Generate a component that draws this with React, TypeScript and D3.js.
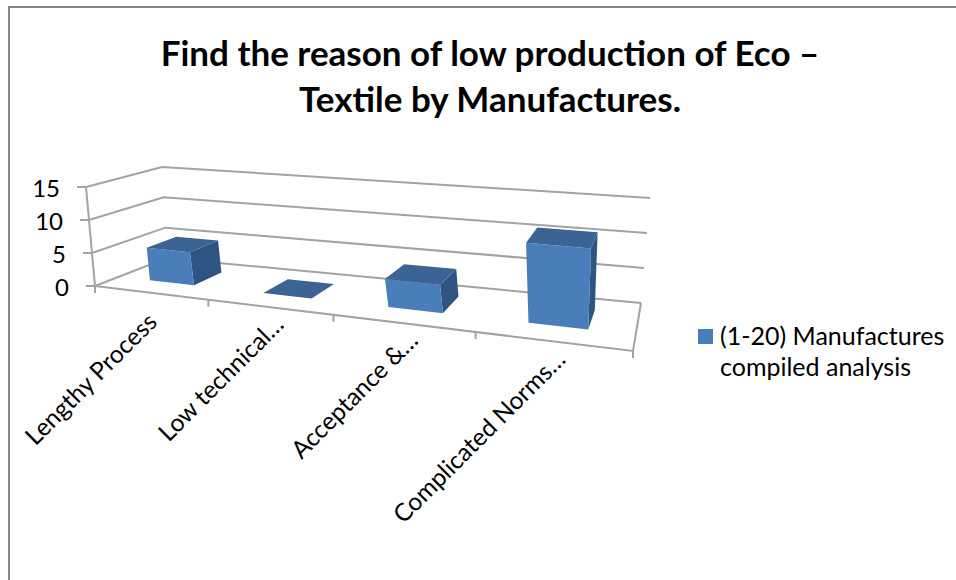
import React from "react";
import * as d3 from "d3";

const categories = ["Lengthy Process", "Low technical…", "Acceptance &…", "Complicated Norms…"];
const values = [5, 0, 4, 11];
const valueTicks = [0, 5, 10, 15];
const seriesName = ["(1-20) Manufactures", "compiled analysis"];
const titleLines = ["Find the reason of low production of Eco –", "Textile by Manufactures."];

type P = [number, number];
// perspective frame of the 3D box: [front-left, front-right, back-right, back-left]
const floorQuad: P[] = [[95, 286], [633, 351], [641, 303], [167, 258]];
const ceilQuad: P[] = [[86, 187], [645, 237], [650, 198], [162, 167]];
// where each category boundary falls along the box width (foreshortening)
const catStops = [0, 0.272, 0.527, 0.772, 1];
// end point of each rotated category label, relative to its floor position
const labelNudge: P[] = [[9, 31], [17, 19], [18, 19], [16, 20]];

function squareToQuad(q: P[]) {
  const [[x0, y0], [x1, y1], [x2, y2], [x3, y3]] = q;
  const dx1 = x1 - x2, dx2 = x3 - x2, sx = x0 - x1 + x2 - x3;
  const dy1 = y1 - y2, dy2 = y3 - y2, sy = y0 - y1 + y2 - y3;
  const den = dx1 * dy2 - dx2 * dy1;
  const g = (sx * dy2 - dx2 * sy) / den;
  const h = (dx1 * sy - sx * dy1) / den;
  const a = x1 - x0 + g * x1, b = x3 - x0 + h * x3, c = x0;
  const d = y1 - y0 + g * y1, e = y3 - y0 + h * y3, f = y0;
  return (u: number, v: number): P => {
    const w = g * u + h * v + 1;
    return [(a * u + b * v + c) / w, (d * u + e * v + f) / w];
  };
}
const floorH = squareToQuad(floorQuad);
const ceilH = squareToQuad(ceilQuad);
const uScale = d3.scaleLinear().domain(d3.range(categories.length + 1)).range(catStops);
const vScale = d3.scaleLinear().domain([0, 15]).range([0, 1]);

function project(cat: number, depth: number, val: number): P {
  const a = floorH(uScale(cat), depth);
  const b = ceilH(uScale(cat), depth);
  const t = vScale(val);
  return [a[0] + (b[0] - a[0]) * t, a[1] + (b[1] - a[1]) * t];
}
const lineGen = d3.line<P>();
const poly = (pts: P[]) => lineGen(pts)! + "Z";

const GRID = "#a3a3a3";
const FONT = "Lato, Carlito, 'Open Sans', sans-serif";
const BAR_W = 0.2, D0 = 0.3, D1 = 0.72;

export default function App() {
  const nCat = categories.length;
  const bars = values.map((v, i) => {
    const l = i + 0.5 - BAR_W, r = i + 0.5 + BAR_W;
    return {
      front: poly([project(l, D0, 0), project(r, D0, 0), project(r, D0, v), project(l, D0, v)]),
      side: poly([project(r, D0, 0), project(r, D1, 0), project(r, D1, v), project(r, D0, v)]),
      top: poly([project(l, D0, v), project(r, D0, v), project(r, D1, v), project(l, D1, v)]),
    };
  });
  const labelAnchor = (i: number): P => {
    const p = project(i + 0.5, 0, 0);
    return [p[0] + labelNudge[i][0], p[1] + labelNudge[i][1]];
  };
  return (
    <svg width={956} height={580} style={{ position: "fixed", left: 0, top: 0, background: "#fff" }} fontFamily={FONT}>
      <defs>
        <filter id="soft" x="-5%" y="-5%" width="110%" height="110%">
          <feGaussianBlur stdDeviation="0.55" />
        </filter>
      </defs>
      <path d="M9 580V7H956" fill="none" stroke="#868686" strokeWidth={2} />
      <g fontWeight={700} fontSize={35} textAnchor="middle" fill="#000">
        {titleLines.map((t, i) => (
          <text key={t} x={490} y={66 + i * 46}>{t}</text>
        ))}
      </g>
      <g filter="url(#soft)">
        <g fill="none" stroke={GRID} strokeWidth={2}>
          {valueTicks.map((v) => (
            <path key={v} d={lineGen([project(0, 0, v), project(0, 1, v), project(nCat, 1, v)])!} />
          ))}
          <path d={lineGen([project(0, 0, 0), project(0, 0, 15)])!} />
          <path d={lineGen([project(0, 0, 0), project(nCat, 0, 0), project(nCat, 1, 0)])!} />
          {valueTicks.map((v) => {
            const p = project(0, 0, v);
            return <path key={v} d={lineGen([p, [p[0] - 9, p[1]]])!} />;
          })}
          {d3.range(nCat + 1).map((i) => {
            const p = project(i, 0, 0);
            return <path key={i} d={lineGen([p, [p[0], p[1] + 7]])!} />;
          })}
        </g>
        {bars.map((b, i) => (
          <g key={i}>
            <path d={b.side} fill="#2f5582" />
            <path d={b.front} fill="#4a7ebb" />
            <path d={b.top} fill="#3a6394" />
          </g>
        ))}
      </g>
      <g fontSize={24} fill="#000" textAnchor="end">
        {valueTicks.map((v) => {
          const p = project(0, 0, v);
          return <text key={v} x={p[0] - 26} y={p[1] + 10}>{v}</text>;
        })}
      </g>
      <g fontSize={24.5} fill="#000" textAnchor="end">
        {categories.map((c, i) => {
          const [x, y] = labelAnchor(i);
          return <text key={c} transform={`translate(${x},${y}) rotate(-45)`}>{c}</text>;
        })}
      </g>
      <rect x={698} y={329} width={15} height={15} fill="#4a7ebb" />
      <g fontSize={25} fill="#000">
        {seriesName.map((t, i) => (
          <text key={t} x={720} y={345 + i * 31}>{t}</text>
        ))}
      </g>
    </svg>
  );
}
